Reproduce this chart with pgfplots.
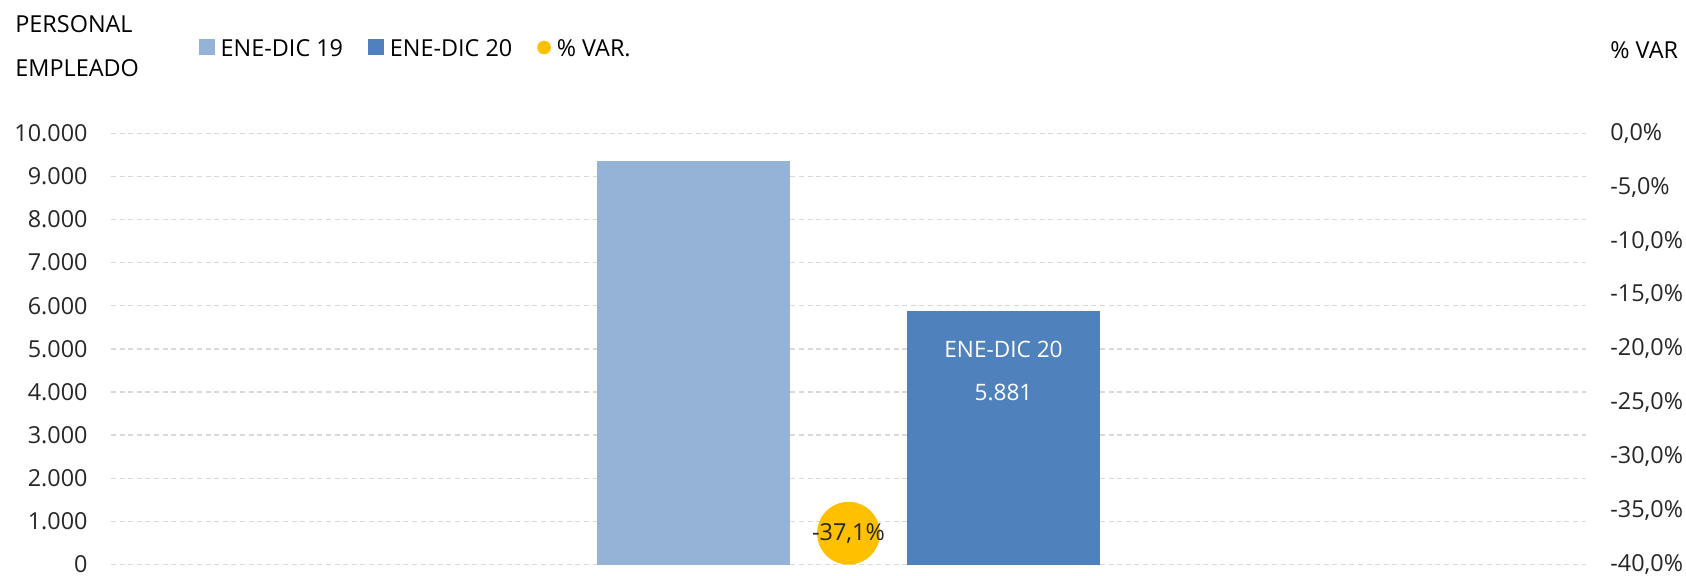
\documentclass[border=0pt]{standalone}
\usepackage{pgfplots}
\pgfplotsset{compat=1.18}
\usepackage{fontspec}
\setmainfont{Open Sans}
\definecolor{bara}{HTML}{95B3D7}
\definecolor{barb}{HTML}{4F81BD}
\definecolor{dotc}{HTML}{FFC000}
\definecolor{gridc}{HTML}{D9D9D9}
\definecolor{tickc}{HTML}{262626}
\begin{document}
\begin{tikzpicture}[font=\fontsize{11.7}{14}\selectfont]
\begin{axis}[
  at={(55.5pt,5.25pt)}, anchor=south west,
  scale only axis, width=737.5pt, height=215.6pt,
  xmin=-1, xmax=1, ymin=0, ymax=10000,
  axis line style={draw=none}, major tick length=0pt,
  xtick=\empty,
  ytick={0,1000,2000,3000,4000,5000,6000,7000,8000,9000,10000},
  scaled y ticks=false,
  /pgf/number format/1000 sep={.},
  /pgf/number format/assume math mode=true,
  yticklabel style={color=tickc, anchor=east, inner sep=0pt, xshift=-11.5pt},
  ymajorgrids,
  grid style={gridc, line width=0.65pt, dash pattern=on 2.5pt off 1.8pt},
  clip=false,
]
\addplot[ybar, bar width=96.8pt, bar shift=-77.5pt, fill=bara, draw=none] coordinates {(0,9350)};
\addplot[ybar, bar width=96.8pt, bar shift=77.5pt, fill=barb, draw=none] coordinates {(0,5881)};
\node[align=center, anchor=center, xshift=77.5pt, yshift=-30pt, text=white, inner sep=0pt,
  font=\fontsize{11.3}{21.5}\selectfont] at (axis cs:0,5881) {ENE-DIC 20\\5.881};
\end{axis}
\begin{axis}[
  at={(55.5pt,5.25pt)}, anchor=south west,
  scale only axis, width=737.5pt, height=215.6pt,
  xmin=-1, xmax=1, ymin=-0.4, ymax=0,
  axis y line*=right, axis x line=none,
  axis line style={draw=none}, major tick length=0pt,
  xtick=\empty,
  ytick={-0.4,-0.35,-0.3,-0.25,-0.2,-0.15,-0.1,-0.05,0},
  yticklabels={{-40,0\%},{-35,0\%},{-30,0\%},{-25,0\%},{-20,0\%},{-15,0\%},{-10,0\%},{-5,0\%},{0,0\%}},
  yticklabel style={color=tickc, anchor=west, inner sep=0pt, xshift=12pt},
  clip=false,
  legend columns=3,
  legend style={draw=none, fill=none, at={(axis description cs:0.0596,1.1945)}, anchor=west,
    inner sep=0pt, outer sep=0pt, nodes={inner sep=0pt, text=black},
    /tikz/every odd column/.append style={column sep=3pt},
    /tikz/every even column/.append style={column sep=12.5pt}},
]
\addlegendimage{legend image code/.code={\fill[bara] (0pt,-2.45pt) rectangle (7.5pt,5.05pt);}}
\addlegendentry{ENE-DIC 19}
\addlegendimage{legend image code/.code={\fill[barb] (0pt,-2.45pt) rectangle (7.5pt,5.05pt);}}
\addlegendentry{ENE-DIC 20}
\addplot[only marks, mark=*, mark size=15.5pt, color=dotc,
  legend image code/.code={\fill[dotc] (3.2pt,1.1pt) circle (3.2pt);},
  nodes near coords={-37,1\%},
  every node near coord/.append style={anchor=center, text=tickc, inner sep=0pt}
] coordinates {(0,-0.371)};
\addlegendentry{\% VAR.}
\end{axis}
\node[anchor=west, inner sep=0pt] at (7.5pt,275.65pt) {PERSONAL};
\node[anchor=west, inner sep=0pt] at (7.5pt,253.65pt) {EMPLEADO};
\node[anchor=west, inner sep=0pt] at (805pt,262.25pt) {\% VAR};
\pgfresetboundingbox
\useasboundingbox (0,0) rectangle (843pt,287.5pt);
\end{tikzpicture}
\end{document}
